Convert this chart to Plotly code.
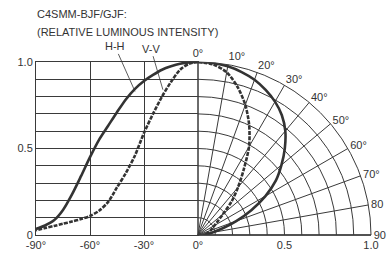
import plotly.graph_objects as go

# Data
angles = [0, 5, 10, 15, 20, 25, 30, 35, 40, 45, 50, 55, 60, 65, 70, 75, 80, 85, 90]
hh = [1.0, 0.998, 0.99, 0.975, 0.955, 0.925, 0.89, 0.845, 0.785, 0.71, 0.63, 0.55,
      0.45, 0.34, 0.235, 0.145, 0.085, 0.055, 0.035]
vv = [1.0, 0.99, 0.955, 0.885, 0.80, 0.70, 0.59, 0.46, 0.36, 0.275, 0.19, 0.14,
      0.11, 0.092, 0.078, 0.065, 0.052, 0.04, 0.028]

x_ticks = [-90, -60, -30, 0]
x_labels = ["-90°", "-60°", "-30°", "0°"]
y_ticks = [0, 0.1, 0.2, 0.3, 0.4, 0.5, 0.6, 0.7, 0.8, 0.9, 1.0]
y_labels = ["0", "", "", "", "", "0.5", "", "", "", "", "1.0"]
ang_ticks = [0, 10, 20, 30, 40, 50, 60, 70, 80, 90]
ang_labels = ["0°", "10°", "20°", "30°", "40°", "50°", "60°", "70°", "80", "90"]
r_ticks = [0.1, 0.2, 0.3, 0.4, 0.5, 0.6, 0.7, 0.8, 0.9, 1.0]
r_labels = ["", "", "", "", "0.5", "", "", "", "", "1.0"]

W, H = 387, 254
INK = "#333333"
GRID = "#3a3a3a"
FONT = "Liberation Sans, Arial, sans-serif"

left_px = (36, 198)
top_px, bottom_px = 62, 235
pol_right = 371

xd = [left_px[0] / W, left_px[1] / W]
yd = [(H - bottom_px) / H, (H - top_px) / H]
pd_ = [left_px[1] / W, pol_right / W]

DASH = "4px,1.3px"
SM = 0.8

fig = go.Figure()

neg = [-a for a in angles]
fig.add_trace(go.Scatter(x=neg, y=hh, mode="lines",
                         line=dict(color=INK, width=2.6, shape="spline", smoothing=SM),
                         showlegend=False, hoverinfo="skip"))
fig.add_trace(go.Scatter(x=neg, y=vv, mode="lines",
                         line=dict(color=INK, width=2.6, dash=DASH, shape="spline", smoothing=SM),
                         showlegend=False, hoverinfo="skip"))

fig.add_trace(go.Scatterpolar(theta=angles, r=hh, mode="lines",
                              line=dict(color=INK, width=2.6, shape="spline", smoothing=SM),
                              showlegend=False, hoverinfo="skip"))
fig.add_trace(go.Scatterpolar(theta=angles, r=vv, mode="lines",
                              line=dict(color=INK, width=2.6, dash=DASH, shape="spline",
                                        smoothing=SM),
                              showlegend=False, hoverinfo="skip"))

fig.update_layout(
    width=W, height=H,
    autosize=False,
    margin=dict(l=0, r=0, t=0, b=0, autoexpand=False),
    paper_bgcolor="white", plot_bgcolor="white",
    font=dict(family=FONT, size=11, color=INK),
    xaxis=dict(domain=xd, range=[-90, 0], tickvals=x_ticks, ticktext=x_labels,
               showgrid=True, gridcolor=GRID, gridwidth=1, zeroline=False,
               showline=True, linecolor=GRID, linewidth=1, mirror=True,
               ticks="", tickfont=dict(size=11, color=INK), automargin=False),
    yaxis=dict(domain=yd, range=[0, 1], tickvals=y_ticks, ticktext=y_labels,
               showgrid=True, gridcolor=GRID, gridwidth=1, zeroline=False,
               showline=True, linecolor=GRID, linewidth=1, mirror=True,
               ticks="", tickfont=dict(size=11, color=INK), automargin=False),
    polar=dict(
        domain=dict(x=pd_, y=yd),
        sector=[0, 90],
        bgcolor="white",
        angularaxis=dict(rotation=90, direction="clockwise", tickvals=ang_ticks,
                         ticktext=ang_labels, showgrid=True, gridcolor=GRID, gridwidth=1,
                         showline=True, linecolor=GRID, linewidth=1, ticks="",
                         tickfont=dict(size=11, color=INK)),
        radialaxis=dict(range=[0, 1], tickvals=r_ticks, ticktext=r_labels,
                        showgrid=True, gridcolor=GRID, gridwidth=1,
                        showline=True, linecolor=GRID, linewidth=1, ticks="",
                        angle=0, tickangle=0, side="clockwise",
                        tickfont=dict(size=11, color=INK)),
    ),
    annotations=[
        dict(text="C4SMM-BJF/GJF:", xref="paper", yref="paper", x=35 / W, y=(H - 14) / H,
             xanchor="left", yanchor="middle", showarrow=False, font=dict(size=11)),
        dict(text="(RELATIVE LUMINOUS INTENSITY)", xref="paper", yref="paper", x=35 / W,
             y=(H - 32) / H, xanchor="left", yanchor="middle", showarrow=False,
             font=dict(size=11)),
        dict(text="H-H", xref="x", yref="y", x=-35, y=0.83, ax=-20, ay=-45,
             showarrow=True, arrowhead=0, arrowwidth=0.8, arrowcolor=INK,
             font=dict(size=11)),
        dict(text="V-V", xref="x", yref="y", x=-19.5, y=0.84, ax=-12, ay=-41,
             showarrow=True, arrowhead=0, arrowwidth=0.8, arrowcolor=INK,
             font=dict(size=11)),
    ],
)

fig.write_html("out.html", config={"displayModeBar": False, "staticPlot": True},
               post_script="document.body.style.margin='0';document.body.style.overflow='hidden';")
